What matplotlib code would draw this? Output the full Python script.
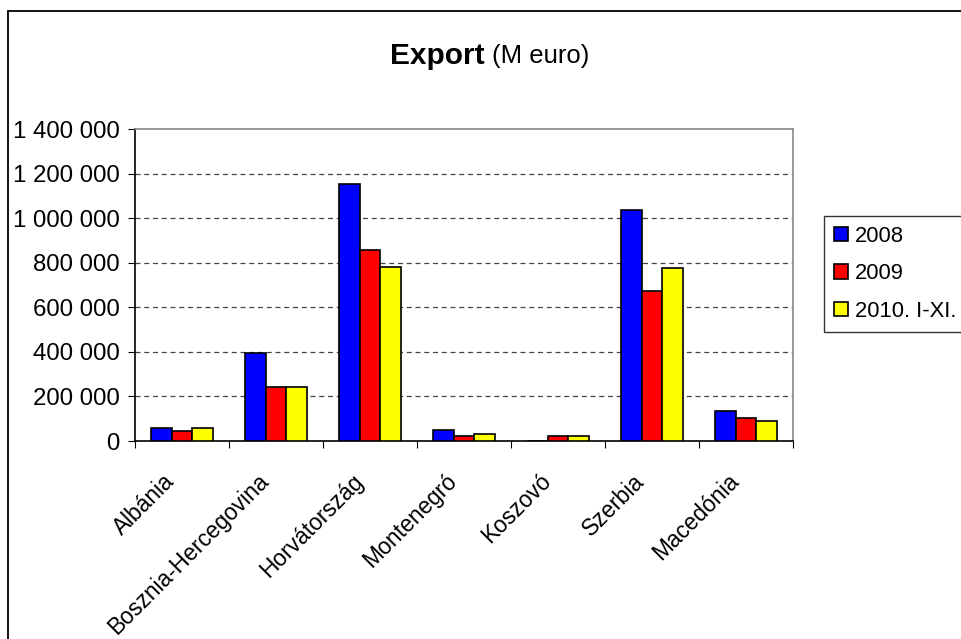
import matplotlib
matplotlib.use("Agg")
from matplotlib import pyplot as plt
from matplotlib.patches import Rectangle
import numpy as np

plt.rcParams['font.family'] = ['Liberation Sans', 'DejaVu Sans']

countries = ["Albánia", "Bosznia-Hercegovina", "Horvátország", "Montenegró",
             "Koszovó", "Szerbia", "Macedónia"]
years = ["2008", "2009", "2010. I-XI."]
v2008 = [57000, 394000, 1154000, 49000, 0, 1037000, 135000]
v2009 = [46000, 244000, 858000, 22000, 22000, 674000, 102000]
v2010 = [57000, 244000, 783000, 33000, 22000, 776000, 91000]
colors = ["#0000FF", "#FF0000", "#FFFF00"]
yticks = [0, 200000, 400000, 600000, 800000, 1000000, 1200000, 1400000]

fig = plt.figure(figsize=(9.62, 6.39), dpi=100)
ax = fig.add_axes([135/962, 1-441/639, (793-135)/962, (441-129.3)/639])

# outer chart frame
fig.patches.append(Rectangle((8/962, -0.1), 1.2, 1.1 - 11/639, transform=fig.transFigure,
                             fill=False, edgecolor="black", lw=1.3))

x = np.arange(len(countries))
w = 1/4.5
for i, (vals, c, lab) in enumerate(zip([v2008, v2009, v2010], colors, years)):
    ax.bar(x + (i-1)*w, vals, w, color=c, edgecolor="black", lw=1.2, label=lab, zorder=3)

ax.set_xlim(-0.5, len(countries)-0.5)
ax.set_ylim(0, 1400000)
ax.set_yticks(yticks)
ax.set_yticklabels(["{:,}".format(v).replace(",", " ") for v in yticks], fontsize=17.3)
for v in yticks[1:-1]:
    ax.axhline(v, color="#444444", lw=0.9, ls=(0, (4, 3)), zorder=1)

ax.set_xticks(np.arange(len(countries)+1) - 0.5)
ax.set_xticklabels([])
ax.tick_params(axis="x", length=5, color="black", direction="out")
ax.tick_params(axis="y", length=5, color="black", direction="out", pad=6)
for i, name in enumerate(countries):
    ax.text(i - 0.2, -0.092, name, transform=ax.get_xaxis_transform(),
            rotation=45, ha="right", va="top", rotation_mode="anchor", fontsize=16.4)

ax.spines["left"].set_color("black")
ax.spines["bottom"].set_color("black")
ax.spines["top"].set_color("#888888")
ax.spines["right"].set_color("#888888")
for s in ax.spines.values():
    s.set_linewidth(1.2)

fig.text(485/962, 1-56/639, "Export", fontsize=21.5, fontweight="bold", ha="right", va="center")
fig.text(492/962, 1-56/639, "(M euro)", fontsize=18.5, ha="left", va="center")

leg = ax.legend(loc="upper left", bbox_to_anchor=(824/962, 1-216/639),
                bbox_transform=fig.transFigure, fontsize=15.8, frameon=True, fancybox=False,
                handlelength=0.65, handleheight=0.65, handletextpad=0.3, labelspacing=0.75,
                borderpad=0.45, borderaxespad=0)
leg.get_frame().set_edgecolor("black")
leg.get_frame().set_linewidth(1.0)

fig.savefig("out.png", dpi=100)
